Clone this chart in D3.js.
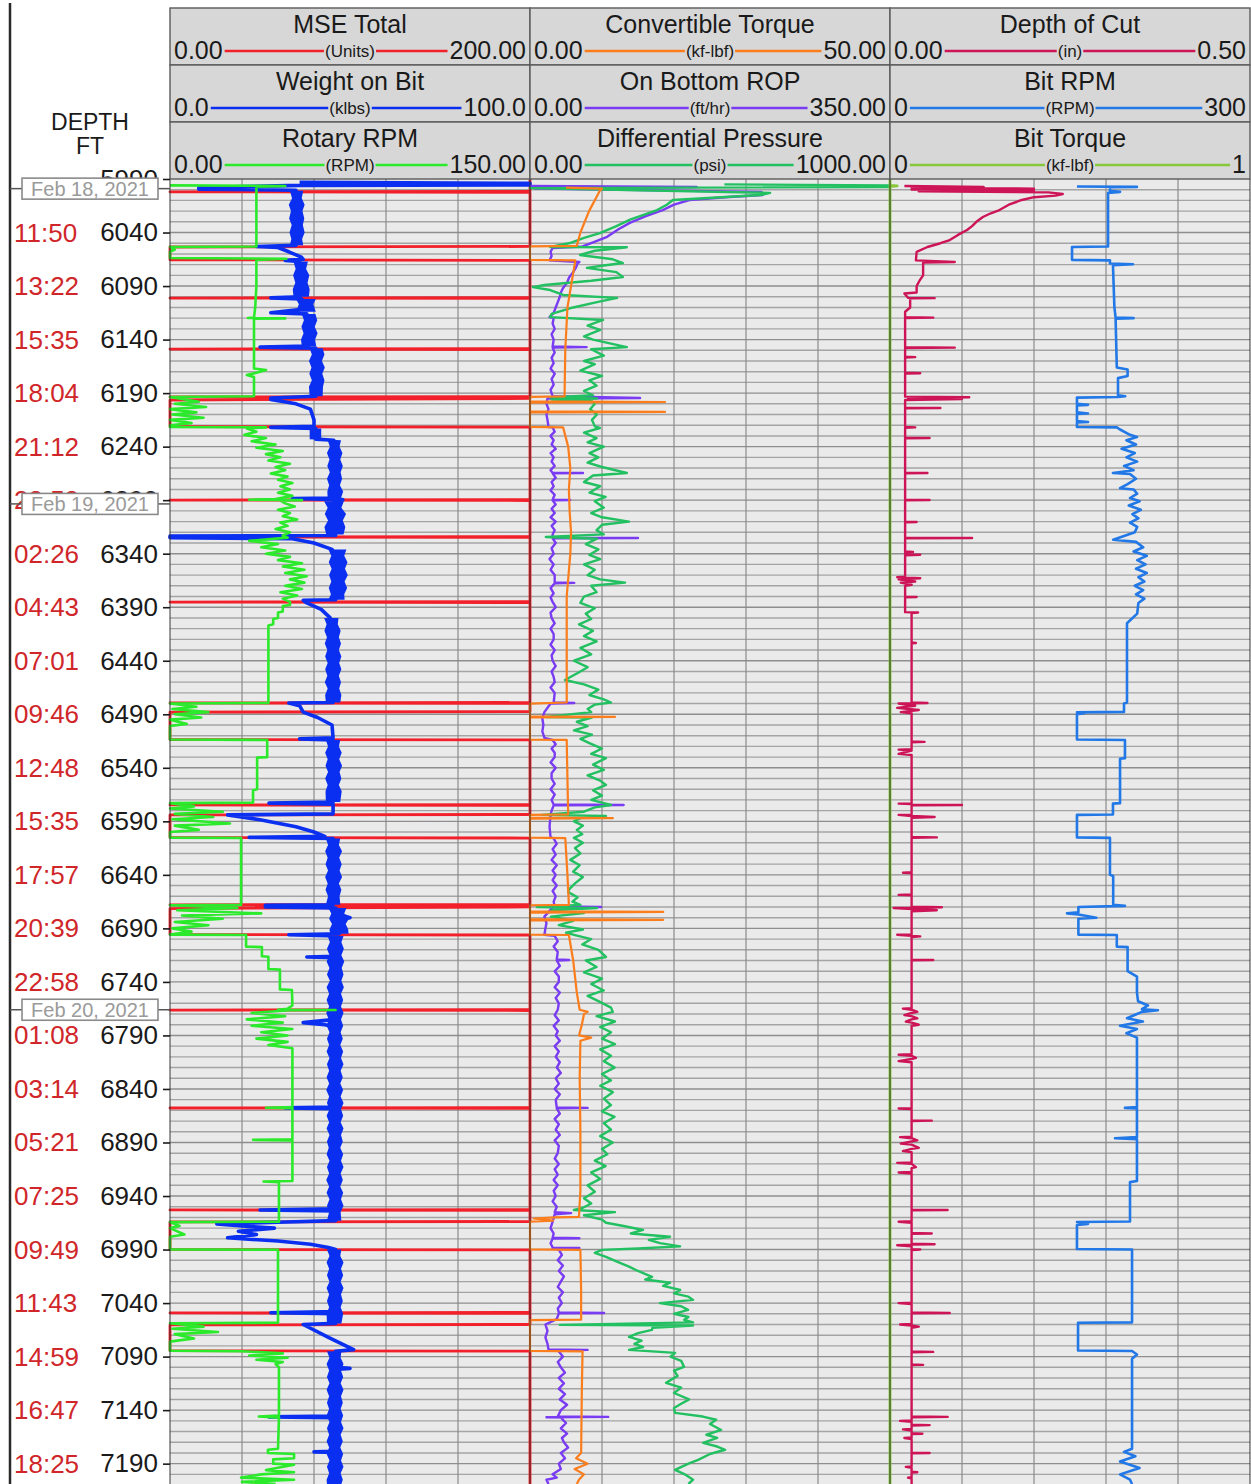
<!DOCTYPE html>
<html>
<head>
<meta charset="utf-8">
<script src="https://cdn.jsdelivr.net/npm/d3@7"></script>
<style>
  html, body { margin: 0; padding: 0; background: #fff; }
  svg { display: block; }
</style>
</head>
<body>
<svg id="chart" width="1251" height="1484"></svg>
<script>
// ---------- depth axis ----------
const depthTicks = [5990, 6040, 6090, 6140, 6190, 6240, 6290, 6340, 6390, 6440, 6490, 6540,
  6590, 6640, 6690, 6740, 6790, 6840, 6890, 6940, 6990, 7040, 7090, 7140, 7190];
const timeLabels = ["", "11:50", "13:22", "15:35", "18:04", "21:12", "23:53", "02:26", "04:43",
  "07:01", "09:46", "12:48", "15:35", "17:57", "20:39", "22:58", "01:08", "03:14", "05:21",
  "07:25", "09:49", "11:43", "14:59", "16:47", "18:25"];
const dateLabels = ["Feb 18, 2021", "Feb 19, 2021", "Feb 20, 2021"];
const dateDepths = [5999, 6293.5, 6766];

// ---------- curve headers ----------
const curveTitles = ["MSE Total", "Weight on Bit", "Rotary RPM",
  "Convertible Torque", "On Bottom ROP", "Differential Pressure",
  "Depth of Cut", "Bit RPM", "Bit Torque"];
const curveUnits = ["(Units)", "(klbs)", "(RPM)", "(kf-lbf)", "(ft/hr)", "(psi)", "(in)", "(RPM)", "(kf-lbf)"];
const curveMinLabels = ["0.00", "0.0", "0.00", "0.00", "0.00", "0.00", "0.00", "0", "0"];
const curveMaxLabels = ["200.00", "100.0", "150.00", "50.00", "350.00", "1000.00", "0.50", "300", "1"];
const curveMin = [0, 0, 0, 0, 0, 0, 0, 0, 0];
const curveMax = [200, 100, 150, 50, 350, 1000, 0.5, 300, 1];
const curveColors = ["#f2202a", "#0b2ff0", "#2bea2b", "#fb7d1c", "#7a3cf2", "#22c061", "#cc1456", "#2178e6", "#86c83a"];

// ---------- series: [depth ft, value] ----------
const mseTotal = [
  [5990, 260], [6001.5, 260], [6002, 0], [6002.5, 260],
  [6053, 260], [6053.5, 0], [6065.5, 0], [6066, 260],
  [6100.8, 260], [6101.2, 0], [6101.6, 260],
  [6148.5, 260], [6148.9, 0], [6149.3, 260],
  [6193.2, 260], [6193.6, 0], [6195, 260], [6196.5, 0], [6221.3, 0], [6221.8, 260],
  [6289.5, 260], [6289.9, 0], [6290.3, 260],
  [6324, 260], [6324.4, 0], [6324.8, 260],
  [6384.8, 260], [6385.2, 0], [6385.6, 260],
  [6479, 260], [6479.4, 0], [6479.8, 260],
  [6487.5, 260], [6488, 0], [6513.6, 0], [6514, 260],
  [6574.3, 260], [6574.7, 0], [6575.1, 260],
  [6583.6, 260], [6584, 0], [6605.2, 0], [6605.6, 260],
  [6667.7, 260], [6668, 0], [6670, 260], [6671.5, 0], [6695.8, 0], [6696.2, 260],
  [6765.9, 260], [6766.3, 0], [6766.7, 260],
  [6857.4, 260], [6857.8, 0], [6858.2, 260],
  [6952.6, 260], [6953, 0], [6953.4, 260],
  [6963.8, 260], [6964.2, 0], [6989.9, 0], [6990.3, 260],
  [7048.8, 260], [7049.2, 0], [7049.6, 260],
  [7060, 260], [7060.4, 0], [7084.5, 0], [7084.9, 260],
  [7209, 260]
];

const weightOnBit = [
  [5993, 36], [5994, 110], [5995.5, 110], [5996, 36], [5998, 8], [5999.5, 8], [6000.5, 35],
  [6020, 35], [6040, 35.5], [6052, 35], [6053, 24], [6054, 30], [6058, 33], [6063, 36.5],
  [6065, 37], [6066, 32], [6067, 36], [6080, 36.5], [6100, 36], [6101, 28], [6102, 36.5],
  [6108, 38.5], [6112, 36], [6115, 28], [6116, 38], [6130, 38.5], [6146, 38.5], [6147, 25],
  [6148, 40.5], [6170, 40.5], [6193, 40.5], [6194.5, 28], [6196, 28], [6200, 35], [6205, 39],
  [6215, 40], [6221, 40], [6222, 28], [6223, 40.5], [6233, 40.5], [6234, 45.5], [6288, 46],
  [6288.5, 34], [6289.5, 48], [6291, 45.5], [6310, 45.5], [6323, 46], [6323.5, 0], [6325, 0],
  [6326, 34], [6330, 40], [6336, 45], [6345, 46.5], [6370, 46.5], [6383, 46], [6383.5, 37],
  [6386, 38], [6392, 42], [6400, 44.5], [6420, 45.3], [6479, 45.3], [6479.5, 33], [6482, 36],
  [6488, 37], [6493, 41], [6500, 45], [6512, 45.3], [6513, 36], [6514, 45.3], [6572, 45.3],
  [6573, 27.5], [6574, 45.3], [6583, 45.3], [6584, 16], [6588.5, 25], [6595, 35], [6600, 40],
  [6604, 43], [6605, 22], [6606, 45.3], [6668, 45.3], [6668.5, 26.5], [6670, 26.5], [6671, 46],
  [6678, 48], [6680, 50], [6682, 47], [6690, 48], [6695, 47], [6696, 33], [6697, 46.5],
  [6716, 46], [6716.7, 38], [6717.5, 46], [6775, 46], [6778, 37], [6780, 43], [6782, 46],
  [6857, 46], [6857.7, 32], [6858.5, 46], [6952, 46], [6953, 25], [6954, 46], [6963, 46],
  [6964.5, 30], [6966, 13], [6968, 20], [6970, 29], [6973, 19], [6976, 24], [6979, 16],
  [6982, 30], [6985, 39], [6988, 44], [6990, 46], [7048, 46], [7049, 28], [7050, 46],
  [7059, 46], [7060, 37], [7072, 44], [7083.5, 51], [7085, 46], [7100, 46], [7101, 50],
  [7102, 46], [7145.5, 46], [7146.3, 27.5], [7147, 46], [7178.5, 46], [7179, 40],
  [7179.6, 46], [7209, 46]
];

// spread of the noisy weight-on-bit trace while drilling: [depth, low, high]
const wobSpread = [
  [6001, 33.3, 37], [6008, 33.9, 36.6], [6014, 33, 37.4], [6020, 33.6, 36.8], [6027, 33.1, 37.3],
  [6033, 33.8, 36.9], [6040, 33.2, 37.4], [6046, 33.7, 36.7], [6052, 33.3, 37], [6052, null, null],
  [6067, 34.3, 38.3], [6074, 34.9, 37.8], [6080, 34.2, 38.7], [6087, 34.8, 38.2], [6093, 34.1, 38.8],
  [6100, 34.3, 38.6], [6100, null, null],
  [6102, 35, 40.5], [6107, 35.8, 39.8], [6114, 35, 40.5], [6114, null, null],
  [6116, 36.6, 40.4], [6122, 37.2, 40.9], [6128, 36.5, 40.2], [6134, 37.1, 41], [6140, 36.4, 40.3],
  [6146, 36.6, 40.6], [6146, null, null],
  [6148, 38.8, 42.4], [6154, 39.4, 42.9], [6160, 38.6, 42.2], [6166, 39.3, 43], [6172, 38.7, 42.3],
  [6178, 39.4, 42.9], [6184, 38.6, 42.5], [6193, 38.8, 42.4], [6193, null, null],
  [6223, 38.8, 42], [6233, 38.8, 42], [6234, 43.8, 47.5], [6240, 44.4, 47.1], [6246, 43.6, 47.9],
  [6252, 44.3, 47.3], [6258, 43.7, 48], [6264, 44.4, 47.4], [6270, 43.6, 47.8], [6276, 44.2, 47.2],
  [6282, 43.7, 48.1], [6288, 43.8, 47.5], [6288, null, null],
  [6291, 42.8, 48.3], [6297, 43.8, 47.6], [6303, 43, 48.9], [6309, 43.9, 48], [6315, 42.9, 48.7],
  [6322, 43.4, 48.2], [6322, null, null],
  [6336, 44, 49], [6342, 44.8, 48.4], [6348, 44.1, 49.3], [6354, 44.9, 48.6], [6360, 44.2, 49.4],
  [6366, 44.8, 48.5], [6372, 44.1, 49.2], [6378, 44.7, 48.4], [6383, 44, 48.5], [6383, null, null],
  [6400, 42.8, 46.8], [6406, 43.5, 46.6], [6412, 42.9, 47.4], [6418, 43.6, 46.9], [6424, 43, 47.5],
  [6430, 43.7, 46.9], [6436, 43.1, 47.6], [6442, 43.8, 47], [6448, 43.1, 47.6], [6454, 43.7, 46.9],
  [6460, 43, 47.5], [6466, 43.8, 47], [6472, 43.1, 47.6], [6479, 43.3, 47.3], [6479, null, null],
  [6514, 43.3, 47.3], [6520, 43.9, 46.9], [6526, 43.1, 47.7], [6532, 43.8, 47], [6538, 43.2, 47.8],
  [6544, 43.9, 47.1], [6550, 43.1, 47.6], [6556, 43.8, 46.9], [6562, 43.2, 47.7], [6572, 43.3, 47.3],
  [6572, null, null],
  [6606, 43.3, 47.3], [6612, 43.9, 46.9], [6618, 43.1, 47.8], [6624, 43.8, 47], [6630, 43.2, 47.7],
  [6636, 43.9, 47.1], [6642, 43.1, 47.8], [6648, 43.8, 46.9], [6654, 43.2, 47.6], [6660, 43.9, 47.1],
  [6668, 43.3, 47.3], [6668, null, null],
  [6671, 44, 49], [6676, 44.8, 48.4], [6681, 44.2, 49.7], [6686, 45, 48.8], [6691, 44.3, 49.5],
  [6695, 44.5, 49.6], [6695, null, null],
  [6697, 43.8, 48.2], [6703, 44.4, 47.6], [6709, 43.6, 48.3], [6715, 44.3, 47.6], [6721, 43.5, 48.4],
  [6727, 44.3, 47.7], [6733, 43.6, 48.2], [6739, 44.4, 47.6], [6745, 43.5, 48.3], [6751, 44.2, 47.5],
  [6757, 43.5, 48.1], [6763, 44.2, 47.5], [6769, 43.4, 48.2], [6775, 44.1, 47.5], [6781, 43.5, 48.1],
  [6787, 44.3, 47.4], [6793, 43.6, 48], [6799, 44.2, 47.3], [6805, 43.5, 48.1], [6811, 44.3, 47.5],
  [6817, 43.6, 48.2], [6823, 44.2, 47.4], [6829, 43.5, 48], [6835, 44.2, 47.3], [6841, 43.4, 48.1],
  [6847, 44.2, 47.4], [6853, 43.6, 48.2], [6859, 44.3, 47.5], [6865, 43.5, 48.1], [6871, 44.2, 47.4],
  [6877, 43.5, 48.2], [6883, 44.3, 47.5], [6889, 43.6, 48], [6895, 44.1, 47.3], [6901, 43.5, 48.1],
  [6907, 44.3, 47.5], [6913, 43.6, 48.2], [6919, 44.2, 47.4], [6925, 43.4, 48], [6931, 44.2, 47.3],
  [6937, 43.5, 48.1], [6943, 44.3, 47.5], [6949, 43.6, 48.2], [6955, 44.2, 47.4], [6963, 43.6, 47.6],
  [6963, null, null],
  [6990, 43.6, 47.6], [6996, 44.3, 47.3], [7002, 43.5, 48.2], [7008, 44.2, 47.5], [7014, 43.6, 48.1],
  [7020, 44.3, 47.4], [7026, 43.5, 48.2], [7032, 44.2, 47.5], [7038, 43.6, 48], [7044, 44.2, 47.4],
  [7050, 43.5, 48.1], [7059, 43.6, 47.6], [7059, null, null],
  [7085, 43.6, 47.6], [7091, 44.3, 47.4], [7097, 43.5, 48.2], [7103, 44.2, 47.5], [7109, 43.6, 48.1],
  [7115, 44.3, 47.4], [7121, 43.5, 48.2], [7127, 44.2, 47.5], [7133, 43.6, 48], [7139, 44.2, 47.4],
  [7145, 43.5, 48.1], [7151, 44.3, 47.5], [7157, 43.6, 48.2], [7163, 44.2, 47.4], [7169, 43.5, 48],
  [7175, 44.2, 47.3], [7181, 43.5, 48.1], [7187, 44.3, 47.5], [7193, 43.6, 48.2], [7199, 44.2, 47.4],
  [7205, 43.5, 48], [7209, 43.6, 47.6]
];

const rotaryRpm = [
  [5996, 0], [5996.5, 48], [5997.5, 36], [6053, 36], [6053.5, 0], [6056, 2], [6058, 0],
  [6063.8, 0], [6064.5, 48.5], [6065.5, 36], [6090, 36], [6110, 35.5], [6119.5, 35],
  [6119.8, 32.5], [6120.2, 48], [6120.6, 35], [6150, 35], [6167, 35], [6168.4, 40], [6171, 36],
  [6173, 32], [6175, 35], [6193, 35], [6193.6, 0], [6198, 12], [6200, 2], [6203, 15],
  [6205, 0], [6208, 11], [6210, 1], [6213, 14], [6215, 0], [6218, 9], [6220, 0], [6221.6, 0],
  [6222, 40], [6223, 32], [6226, 36], [6229, 31], [6232, 40], [6235, 34], [6238, 44],
  [6241, 36], [6244, 47], [6247, 40], [6250, 46], [6253, 41], [6256, 50], [6259, 44],
  [6262, 48], [6265, 42], [6268, 49], [6271, 45], [6274, 51], [6277, 46], [6280, 50],
  [6283, 45], [6286, 51], [6289, 44], [6289.6, 33], [6290, 55], [6290.5, 46], [6293, 48],
  [6296, 52], [6299, 45], [6302, 50], [6305, 47], [6308, 53], [6311, 46], [6314, 49],
  [6317, 44], [6320, 50], [6323, 47], [6325, 49], [6328, 33], [6331, 45], [6334, 38],
  [6337, 48], [6340, 40], [6343, 50], [6346, 45], [6349, 55], [6352, 47], [6355, 56],
  [6358, 48], [6361, 57], [6364, 50], [6367, 56], [6370, 48], [6373, 55], [6376, 46],
  [6379, 53], [6382, 47], [6385, 50], [6388, 50], [6389, 47], [6394, 47], [6395, 45],
  [6400, 45], [6401, 43], [6406, 43], [6407, 41], [6411, 41], [6479.4, 41], [6480, 0],
  [6483, 11], [6485, 1], [6488, 16], [6490, 2], [6493, 13], [6495, 0], [6499, 7], [6501, 0],
  [6513.6, 0], [6514, 40.5], [6530, 40.5], [6530.5, 36.3], [6560, 36.3], [6561, 34.6],
  [6572.5, 34.6], [6573, 0], [6576, 10], [6578, 0], [6581, 22], [6583, 2], [6586, 18],
  [6588, 1], [6592, 25], [6594, 2], [6598, 12], [6600, 0], [6605.2, 0], [6605.6, 29.6],
  [6668, 29.6], [6668.4, 0], [6671, 28], [6673, 3], [6676, 38], [6678, 5], [6681, 22],
  [6684, 2], [6687, 16], [6690, 1], [6693, 9], [6695.8, 0], [6696.2, 31.7], [6707, 31.7],
  [6707.5, 38.3], [6716, 38.3], [6716.5, 41], [6728, 41], [6728.5, 45.8], [6747, 45.8],
  [6747.5, 50.8], [6762, 51], [6765, 49], [6766, 45], [6766.2, 69], [6766.5, 50], [6769, 34],
  [6772, 48], [6775, 32], [6778, 47], [6781, 34], [6784, 51], [6787, 38], [6790, 49],
  [6793, 36], [6796, 49], [6799, 41], [6802, 51], [6857, 51], [6857.5, 40], [6858, 51],
  [6887, 51], [6887.5, 34.6], [6888, 51], [6926, 51], [6926.5, 39], [6927, 45.4], [6964, 45.4],
  [6964.4, 0], [6968, 4], [6970, 0], [6976, 6], [6978, 0], [6989.8, 0], [6990.2, 45],
  [7058.4, 45], [7058.8, 0], [7062, 14], [7064, 1], [7067, 20], [7069, 2], [7073, 10],
  [7076, 0], [7084.5, 0], [7085, 30], [7087, 47], [7089, 33], [7091, 49], [7093, 36],
  [7095, 47], [7097, 44], [7100, 45.4], [7145, 45.4], [7146, 37], [7147, 45.4], [7176, 45],
  [7177, 40.8], [7180, 40.8], [7181, 51.7], [7185, 51.7], [7186, 43], [7190, 43], [7191, 51.7],
  [7196, 40], [7198, 51.7], [7200, 38], [7203, 29.6], [7205, 51.7], [7207, 30], [7209, 44]
];

const convTorque = [
  [5998, 5], [5999, 10], [6001, 9.7], [6020, 8.2], [6040, 7], [6052.5, 6.5], [6053, 0],
  [6065.5, 0], [6066, 6.3], [6090, 5.7], [6110, 5.2], [6150, 4.9], [6193, 4.8], [6193.6, 0],
  [6197.8, 0], [6198.3, 18.75], [6198.8, 0], [6207, 0], [6207.6, 18.75], [6208.1, 0],
  [6221.6, 0], [6222, 4.6], [6240, 5.3], [6260, 5.6], [6280, 5.4], [6300, 5.5], [6320, 5.7],
  [6340, 5.6], [6380, 5.1], [6420, 5.1], [6479, 5.1], [6480, 0], [6492, 0], [6492.5, 11.8],
  [6493, 0], [6513.6, 0], [6514, 5.1], [6550, 5.2], [6583.5, 5.3], [6584, 0], [6586.5, 0],
  [6587, 11.5], [6587.5, 0], [6605.2, 0], [6605.6, 4.9], [6640, 5.2], [6668, 5.4],
  [6668.4, 0], [6674, 0], [6674.6, 18.5], [6675.2, 0], [6681.4, 0], [6682, 18.5], [6682.6, 0],
  [6695.8, 0], [6696.2, 5.4], [6720, 6.0], [6750, 6.5], [6766, 6.9], [6768, 8], [6770, 7.5],
  [6780, 7.2], [6790, 6.8], [6792, 8.5], [6795, 7], [6830, 6.9], [6880, 7.0], [6935, 7.0],
  [6959.5, 6.8], [6960, 3.5], [6961, 0.5], [6963, 3.2], [6964, 0], [6989.9, 0], [6990.3, 7.0],
  [7030, 7.1], [7055.5, 7.1], [7056, 0], [7084.7, 0], [7085.1, 7.3], [7120, 7.2], [7180, 7.1],
  [7185, 6.4], [7190, 8.0], [7195, 6.2], [7200, 7.5], [7205, 6.8], [7209, 6.5]
];

const onBottomRop = [
  [5996.5, 0], [5997.5, 162], [5999, 5], [6002, 225], [6005, 226], [6007, 190], [6009.6, 155],
  [6014, 140], [6019, 129], [6025, 112], [6031, 97], [6037, 86], [6044, 75], [6049, 62],
  [6053, 51], [6054.5, 22], [6058, 20], [6062, 21], [6066, 19], [6067.5, 48], [6069, 46],
  [6072, 45], [6077, 42], [6082, 38], [6087, 36], [6092, 32], [6096, 30], [6100, 29],
  [6105, 27], [6110, 25], [6115, 23], [6119, 19], [6120, 23], [6125, 22], [6130, 24],
  [6135, 21], [6140, 23], [6146.5, 22], [6147, 55], [6147.5, 22], [6152, 24], [6157, 21],
  [6162, 23], [6167, 20], [6172, 24], [6177, 21], [6182, 23], [6187, 20], [6193, 22],
  [6194.5, 107], [6195, 17], [6200, 16], [6205, 18], [6210, 16], [6215, 17], [6221.6, 18],
  [6222, 22], [6226, 24], [6230, 20], [6234, 23], [6238, 21], [6242, 25], [6246, 20],
  [6250, 23], [6254, 21], [6258, 24], [6262, 20], [6264.3, 22], [6264.6, 51.5], [6265, 22],
  [6269, 25], [6273, 21], [6277, 23], [6281, 20], [6285, 24], [6289.5, 22], [6289.8, 39],
  [6290.2, 22], [6294, 25], [6298, 21], [6302, 24], [6306, 20], [6310, 25], [6314, 21],
  [6318, 24], [6322, 22], [6325, 22], [6325.3, 105], [6325.7, 22], [6330, 25], [6335, 21],
  [6340, 23], [6345, 19], [6350, 23], [6355, 20], [6360, 24], [6366.8, 24], [6367.3, 43],
  [6367.7, 24], [6372, 20], [6377, 23], [6381, 20], [6385, 22], [6390, 25], [6395, 20],
  [6400, 21], [6405, 24], [6410, 20], [6415, 23], [6420, 23], [6425, 20], [6430, 24],
  [6435, 21], [6440, 22], [6445, 25], [6450, 21], [6455, 23], [6460, 24], [6465, 20],
  [6470, 24], [6479, 23], [6479.4, 43], [6480, 20], [6488, 14], [6494, 12], [6500, 13],
  [6506, 12], [6512, 14], [6514, 22], [6518, 25], [6522, 21], [6526, 24], [6530, 24],
  [6535, 20], [6540, 25], [6545, 21], [6550, 21], [6555, 24], [6560, 20], [6565, 24],
  [6570, 21], [6574.3, 23], [6574.7, 91], [6575.1, 23], [6580, 21], [6584, 20], [6595, 19],
  [6605, 20], [6606, 23], [6611, 26], [6616, 22], [6621, 25], [6626, 21], [6631, 26],
  [6636, 22], [6640, 25], [6645, 22], [6650, 26], [6655, 22], [6660, 25], [6665, 23],
  [6669.6, 24], [6670, 69], [6670.4, 22], [6679, 14], [6685, 16], [6690, 15], [6696, 14],
  [6697, 24], [6702, 27], [6707, 23], [6712, 27], [6719, 26], [6719.5, 38], [6720, 26],
  [6725, 29], [6730, 24], [6735, 28], [6740, 28], [6745, 24], [6750, 29], [6755, 25],
  [6760, 28], [6766, 27], [6771, 24], [6776, 28], [6781, 23], [6786, 27], [6790, 25],
  [6795, 29], [6800, 24], [6805, 28], [6810, 25], [6815, 29], [6820, 26], [6825, 30],
  [6830, 25], [6835, 28], [6840, 24], [6845, 29], [6850, 25], [6857.3, 26], [6857.7, 56],
  [6858.1, 26], [6863, 29], [6868, 24], [6873, 28], [6878, 25], [6883, 29], [6888, 24],
  [6893, 28], [6900, 27], [6905, 24], [6910, 28], [6915, 24], [6920, 27], [6925, 23],
  [6930, 27], [6935, 23], [6940, 25], [6945, 22], [6950, 26], [6955, 24], [6956, 40],
  [6957, 24], [6964, 22], [6970, 20], [6975, 23], [6979, 22], [6979.4, 48], [6979.8, 22],
  [6984, 20], [6988.2, 22], [6988.6, 48], [6989, 22], [6990, 28], [6995, 31], [7000, 27],
  [7005, 32], [7010, 28], [7015, 33], [7020, 30], [7025, 27], [7030, 32], [7035, 28],
  [7040, 31], [7045, 27], [7048.8, 28], [7049.2, 72], [7049.6, 28], [7055, 26], [7060, 15],
  [7066, 17], [7072, 15], [7078, 17], [7083.3, 18], [7083.7, 56], [7084.1, 27], [7090, 32],
  [7095, 27], [7100, 30], [7105, 34], [7110, 28], [7115, 33], [7120, 28], [7125, 34],
  [7130, 29], [7135, 36], [7140, 30], [7146, 27], [7146.3, 76], [7146.6, 16], [7147, 30],
  [7152, 35], [7157, 30], [7162, 36], [7166, 31], [7170, 33], [7175, 37], [7180, 30],
  [7185, 34], [7190, 28], [7195, 30], [7200, 22], [7203, 26], [7205, 16], [7209, 18]
];

const diffPressure = [
  [5995, 540], [5996, 1100], [5997.5, 1100], [5998.5, 0], [6003, 667], [6005, 640],
  [6009.6, 397], [6014, 380], [6019, 353], [6028, 278], [6034, 240], [6040.5, 194],
  [6045, 150], [6049.8, 111], [6053.5, 56], [6053.8, 269], [6057, 180], [6061, 139],
  [6065, 230], [6068.5, 258], [6071, 200], [6073, 158], [6077, 240], [6081.5, 258],
  [6085, 170], [6089, 40], [6091, 8], [6093.7, 56], [6098.3, 92], [6101, 242], [6105, 186],
  [6110, 120], [6116, 60], [6119, 56], [6121.7, 203], [6127, 160], [6131, 195], [6137, 150],
  [6140, 175], [6147, 269], [6149, 170], [6155, 205], [6160, 150], [6163, 180], [6169, 140],
  [6174, 200], [6178, 165], [6183, 185], [6188, 150], [6192, 175], [6194, 56], [6195, 186],
  [6196, 60], [6197, 170], [6200, 180], [6205, 167], [6210, 186], [6215, 172], [6221, 180],
  [6222.6, 194], [6227, 150], [6232, 185], [6236, 160], [6240, 205], [6246, 165], [6250, 190],
  [6255, 160], [6259, 200], [6264.6, 269], [6267, 175], [6273, 150], [6277, 195], [6283, 165],
  [6287, 210], [6291, 180], [6297, 205], [6302, 170], [6306, 200], [6310, 275], [6313, 200],
  [6318, 185], [6322, 205], [6324.4, 44], [6326, 186], [6331, 155], [6336, 190], [6341, 165],
  [6345, 195], [6350, 150], [6355, 180], [6360, 160], [6364, 195], [6367, 264], [6370, 170],
  [6376, 185], [6380, 150], [6386, 140], [6391, 180], [6396, 155], [6401, 170], [6406, 136],
  [6412, 175], [6417, 150], [6422, 185], [6428, 140], [6434, 170], [6440, 122], [6446, 160],
  [6451, 135], [6458, 97], [6462, 150], [6467, 190], [6472, 165], [6476, 205], [6479, 225],
  [6481, 180], [6485, 160], [6488, 170], [6492.5, 44], [6493, 172], [6497, 130], [6501, 160],
  [6505, 122], [6509, 172], [6513, 140], [6517, 165], [6522, 200], [6527, 170], [6531, 211],
  [6537, 175], [6542, 205], [6547, 160], [6552, 195], [6556, 211], [6561, 175], [6566, 200],
  [6570, 170], [6574.7, 225], [6577, 180], [6581, 150], [6584, 33], [6585, 211], [6587, 140],
  [6590, 122], [6594, 147], [6598, 130], [6602, 145], [6605.5, 122], [6610, 147], [6615, 125],
  [6620, 140], [6626, 112], [6631, 138], [6637, 120], [6642, 147], [6648, 125], [6653, 110],
  [6656, 106], [6661, 132], [6665, 118], [6668, 140], [6670, 19], [6671, 186], [6673, 60],
  [6675.6, 150], [6679, 58], [6683, 120], [6687, 80], [6691, 147], [6694, 100], [6696, 122],
  [6700, 170], [6705, 145], [6710, 190], [6716.7, 211], [6720, 155], [6726, 185], [6731, 150],
  [6737, 200], [6742, 170], [6748, 205], [6753, 160], [6758, 190], [6764, 225], [6768, 230],
  [6772, 185], [6777, 236], [6782, 195], [6787, 225], [6793, 200], [6798, 236], [6803, 195],
  [6809, 225], [6814, 205], [6820, 235], [6826, 200], [6832, 225], [6837, 195], [6843, 230],
  [6849, 205], [6855, 225], [6861, 200], [6866, 235], [6872, 205], [6878, 225], [6884, 195],
  [6890, 230], [6896, 200], [6901, 215], [6907, 180], [6912, 210], [6918, 170], [6924, 195],
  [6930, 160], [6936, 180], [6942, 150], [6947, 170], [6951, 147], [6953, 122], [6955, 236],
  [6958, 150], [6962, 200], [6965, 211], [6968, 260], [6971.7, 314], [6975, 280], [6978, 389],
  [6981, 330], [6984, 361], [6987, 417], [6989, 300], [6990.3, 200], [6993, 180], [6996.8, 211],
  [7001, 240], [7006, 275], [7010, 300], [7015.5, 339], [7018, 320], [7021, 389], [7024, 370],
  [7027.7, 417], [7031, 400], [7034, 440], [7037, 453], [7040, 361], [7043, 420], [7046.4, 439],
  [7050, 400], [7053, 440], [7055.7, 428], [7058, 453], [7060.4, 83], [7061, 453], [7063, 340],
  [7065, 339], [7068, 300], [7071.6, 275], [7075, 310], [7078, 290], [7081, 314], [7083.7, 275],
  [7086.5, 403], [7090, 390], [7094, 420], [7099.6, 428], [7103, 400], [7108, 410],
  [7114.5, 378], [7119, 420], [7124, 400], [7130, 442], [7134, 420], [7138, 400], [7142.6, 403],
  [7146, 480], [7149, 517], [7153, 500], [7158.5, 531], [7163, 490], [7166, 520], [7170.6, 481],
  [7174, 520], [7177, 542], [7181, 500], [7186.5, 467], [7190, 440], [7195.8, 403], [7200, 430],
  [7205, 453], [7209, 440]
];

const depthOfCut = [
  [5996.5, 0.02], [5997.5, 0.13], [5998.2, 0.03], [5999, 0.2], [5999.8, 0.03], [6000.6, 0.2],
  [6001.5, 0.04], [6002.5, 0.22], [6004, 0.24], [6005.5, 0.23], [6007, 0.2], [6009.6, 0.183],
  [6014, 0.165], [6019, 0.152], [6022, 0.14], [6025.5, 0.129], [6030, 0.12], [6034, 0.114],
  [6037.6, 0.107], [6042, 0.095], [6047, 0.083], [6050, 0.07], [6053.5, 0.052], [6058, 0.037],
  [6066, 0.036], [6067.5, 0.09], [6068, 0.046], [6080, 0.046], [6085, 0.041], [6090, 0.037],
  [6096, 0.037], [6097, 0.02], [6101, 0.025], [6101.3, 0.062], [6101.6, 0.028], [6110, 0.028],
  [6114, 0.021], [6119.2, 0.021], [6119.5, 0.06], [6119.8, 0.021], [6147.2, 0.021],
  [6147.5, 0.09], [6147.8, 0.021], [6156, 0.021], [6156.4, 0.035], [6156.8, 0.021],
  [6171, 0.021], [6171.4, 0.042], [6171.8, 0.021], [6193.3, 0.021], [6193.8, 0.11],
  [6194.5, 0.025], [6195.5, 0.1], [6196.5, 0.021], [6203.6, 0.021], [6203.9, 0.07],
  [6204.2, 0.021], [6221.5, 0.021], [6222, 0.035], [6222.5, 0.021], [6231.7, 0.021],
  [6232, 0.055], [6232.3, 0.021], [6264.3, 0.021], [6264.6, 0.052], [6264.9, 0.021],
  [6289.5, 0.021], [6289.8, 0.055], [6290.1, 0.021], [6310.1, 0.021], [6310.4, 0.037],
  [6310.7, 0.021], [6325, 0.021], [6325.3, 0.114], [6325.6, 0.021], [6338, 0.021],
  [6338.4, 0.032], [6338.8, 0.021], [6340.6, 0.021], [6341, 0.042], [6341.4, 0.021],
  [6361.5, 0.021], [6362, 0.01], [6363, 0.042], [6364, 0.012], [6366, 0.035], [6367, 0.015],
  [6369, 0.03], [6370, 0.021], [6380.1, 0.021], [6380.4, 0.037], [6380.7, 0.021],
  [6394.6, 0.021], [6395, 0.039], [6395.4, 0.03], [6423, 0.03], [6423.4, 0.036], [6423.8, 0.03],
  [6479, 0.03], [6479.4, 0.052], [6480, 0.012], [6482, 0.035], [6484, 0.01], [6486, 0.04],
  [6488, 0.015], [6489, 0.03], [6515.5, 0.03], [6515.8, 0.048], [6516.1, 0.03], [6522.6, 0.03],
  [6523, 0.012], [6524, 0.03], [6527, 0.012], [6528, 0.03], [6573.2, 0.03], [6573.5, 0.012],
  [6573.9, 0.03], [6574.4, 0.03], [6574.7, 0.1], [6575, 0.03], [6583.7, 0.03], [6584, 0.012],
  [6585, 0.03], [6586, 0.062], [6586.6, 0.03], [6604.6, 0.03], [6605, 0.065], [6605.4, 0.03],
  [6637.6, 0.03], [6638, 0.018], [6638.4, 0.03], [6658.3, 0.03], [6658.7, 0.012],
  [6659.1, 0.03], [6669.8, 0.03], [6670.2, 0.072], [6671, 0.005], [6673, 0.065], [6674, 0.03],
  [6695.6, 0.03], [6696, 0.01], [6697, 0.03], [6697.5, 0.042], [6698, 0.03], [6719.2, 0.03],
  [6719.5, 0.06], [6719.8, 0.03], [6764.6, 0.03], [6765, 0.018], [6766, 0.03], [6768, 0.038],
  [6769, 0.03], [6771, 0.02], [6772, 0.03], [6774, 0.038], [6775, 0.03], [6777, 0.022],
  [6778, 0.03], [6780, 0.04], [6781, 0.03], [6807.6, 0.03], [6808, 0.012], [6809, 0.03],
  [6811, 0.036], [6812, 0.03], [6814, 0.012], [6815, 0.03], [6858, 0.03], [6858.3, 0.012],
  [6858.7, 0.03], [6869.3, 0.03], [6869.6, 0.058], [6869.9, 0.03], [6884.6, 0.03],
  [6885, 0.014], [6886, 0.03], [6888, 0.038], [6889, 0.03], [6891, 0.015], [6892, 0.03],
  [6895, 0.04], [6896, 0.03], [6898, 0.018], [6899, 0.03], [6908.6, 0.03], [6909, 0.01],
  [6910, 0.03], [6913, 0.036], [6914, 0.03], [6917.6, 0.03], [6918, 0.012], [6919, 0.03],
  [6952.7, 0.03], [6953, 0.08], [6953.3, 0.03], [6963.6, 0.03], [6964, 0.012], [6965, 0.03],
  [6974.6, 0.03], [6975, 0.058], [6975.4, 0.03], [6984.6, 0.03], [6985, 0.062], [6985.4, 0.03],
  [6986, 0.01], [6987, 0.03], [6989.6, 0.03], [6990, 0.042], [6990.4, 0.03], [7039.6, 0.03],
  [7040, 0.012], [7041, 0.03], [7048.8, 0.03], [7049.2, 0.083], [7049.6, 0.03], [7059.6, 0.03],
  [7060, 0.014], [7061, 0.03], [7062, 0.04], [7063, 0.03], [7085.3, 0.03], [7085.6, 0.06],
  [7085.9, 0.03], [7097.4, 0.03], [7097.7, 0.046], [7098, 0.03], [7146, 0.03], [7146.3, 0.08],
  [7146.6, 0.03], [7149.6, 0.03], [7150, 0.014], [7151, 0.03], [7153.6, 0.03], [7154, 0.055],
  [7154.4, 0.03], [7157.6, 0.03], [7158, 0.018], [7159, 0.03], [7161.6, 0.03], [7162, 0.045],
  [7162.4, 0.03], [7165.6, 0.03], [7166, 0.02], [7167, 0.03], [7179.7, 0.03], [7180, 0.055],
  [7180.3, 0.03], [7192.6, 0.03], [7193, 0.022], [7194, 0.03], [7197.6, 0.03], [7198, 0.038],
  [7198.4, 0.03], [7202.6, 0.03], [7203, 0.025], [7204, 0.03], [7209, 0.03]
];

const bitRpm = [
  [5997, 155.8], [5997.4, 205.8], [5998, 183.3], [6001, 183.3], [6002, 191.7], [6003, 181.7],
  [6053, 181.7], [6053.5, 151.7], [6065.5, 151.7], [6066, 183.3], [6069, 183.3], [6069.7, 202.5],
  [6070.5, 185.8], [6110, 187], [6119.5, 188], [6120, 203], [6120.5, 188], [6166, 189],
  [6168, 198], [6174, 198], [6176, 190], [6192, 190], [6193, 196], [6193.6, 190],
  [6194.2, 155.8], [6200, 155.8], [6201, 165], [6201.5, 155.8], [6208, 155.8], [6209, 165],
  [6209.5, 155.8], [6216, 155.8], [6217, 165], [6217.5, 155.8], [6221.6, 155.8], [6222, 189],
  [6224, 191.7], [6229, 200], [6231, 205.8], [6234, 197], [6238, 205], [6242, 193],
  [6246, 204], [6250, 197], [6254, 206], [6258, 195], [6262, 203], [6264.6, 185.8],
  [6265.5, 200], [6270, 205], [6275, 198], [6278.8, 191.7], [6280, 203], [6284, 206],
  [6288, 200], [6291, 208], [6295, 199], [6299, 209], [6303, 202], [6307, 207], [6311, 200],
  [6315, 206], [6320, 204], [6327, 186], [6329, 205], [6334, 211], [6338, 203], [6342, 214],
  [6346, 206], [6350, 213], [6354, 205], [6358, 214], [6362, 207], [6366, 212], [6370, 204],
  [6374, 211], [6378, 205], [6382, 212], [6386, 207], [6396, 206], [6405, 197.5],
  [6479, 197.5], [6480, 195], [6487.8, 195], [6488.2, 155.8], [6489, 162], [6490, 155.8],
  [6513.6, 155.8], [6514, 195.8], [6531, 195.8], [6531.5, 191.7], [6573, 191.7],
  [6573.5, 185.8], [6583.6, 185.8], [6584, 155.8], [6605, 155.8], [6605.5, 183.3],
  [6640, 183.3], [6641, 186], [6668, 186], [6669, 195.8], [6670, 157], [6675, 157],
  [6676, 147.5], [6677, 157], [6680, 172], [6681, 157], [6695.8, 157], [6696.2, 189],
  [6707, 189], [6707.5, 198], [6730, 198], [6735, 205.8], [6750, 205.8], [6758, 206.7],
  [6762, 215], [6765.5, 210], [6766.5, 223.3], [6768, 210], [6770, 205.8], [6774, 197.5],
  [6777, 210.8], [6781, 191.7], [6784, 205.8], [6788, 197], [6792, 205.8], [6857, 205.8],
  [6857.7, 195.8], [6858.3, 205.8], [6885, 205.8], [6886, 187.5], [6887, 205.8], [6926, 205.8],
  [6927, 200], [6963.8, 200], [6964.2, 155.8], [6966, 165], [6967, 155.8], [6989.5, 155.8],
  [6989.9, 201.7], [7058, 201.7], [7058.4, 156.7], [7084.3, 156.7], [7084.7, 201.7],
  [7088, 205.8], [7092, 201.7], [7176, 201.7], [7179, 195], [7183, 204.5], [7188, 191.7],
  [7194, 208], [7200, 191.7], [7205, 200], [7209, 201.7]
];

const bitTorque = [[5990, 0], [5996, 0], [5996.5, 0.02], [5997, 0], [7209, 0]];

// ---------- layout ----------
const W = 1251, H = 1484;
const plotTop = 179, plotBottom = 1484;
const headerTop = 8, rowH = 57;
const trackEdges = [[170, 530], [530, 890], [890, 1250]];
const FONT = "'Liberation Sans', Arial, Helvetica, sans-serif";

const y = d3.scaleLinear().domain([5990, 7209]).range([plotTop, plotBottom]);

const svg = d3.select("#chart");
svg.append("rect").attr("width", W).attr("height", H).attr("fill", "#fff");

// ---------- track backgrounds and grid ----------
const gridDepths = d3.range(6000, 7209, 10);
trackEdges.forEach(([x0, x1]) => {
  const g = svg.append("g");
  g.append("rect").attr("x", x0).attr("y", plotTop).attr("width", x1 - x0)
    .attr("height", plotBottom - plotTop).attr("fill", "#eaeaea");
  g.selectAll("line.h").data(gridDepths).join("line")
    .attr("x1", x0).attr("x2", x1)
    .attr("y1", d => y(d)).attr("y2", d => y(d))
    .attr("stroke", d => d % 50 === 40 ? "#8e8e8e" : "#a4a4a4")
    .attr("stroke-width", 1.4);
  const gx = d3.scaleLinear().domain([0, 5]).range([x0, x1]);
  g.selectAll("line.v").data([1, 2, 3, 4]).join("line")
    .attr("x1", k => gx(k)).attr("x2", k => gx(k))
    .attr("y1", plotTop).attr("y2", plotBottom)
    .attr("stroke", "#8a8a8a").attr("stroke-width", 1.2);
});

// ---------- curves ----------
function xScale(i) {
  const edges = trackEdges[Math.floor(i / 3)];
  return d3.scaleLinear().domain([curveMin[i], curveMax[i]]).range(edges).clamp(true);
}
function drawCurve(data, i, width) {
  const xs = xScale(i);
  svg.append("path").datum(data)
    .attr("fill", "none").attr("stroke", curveColors[i])
    .attr("stroke-width", width).attr("stroke-linejoin", "round")
    .attr("d", d3.line().x(p => xs(p[1])).y(p => y(p[0])));
}

// track 1
drawCurve(mseTotal, 0, 2.8);
{
  const xs = xScale(1);
  svg.append("path").datum(wobSpread)
    .attr("fill", curveColors[1])
    .attr("d", d3.area().defined(p => p[1] !== null)
      .x0(p => xs(p[1])).x1(p => xs(p[2])).y(p => y(p[0])));
}
drawCurve(weightOnBit, 1, 3.6);
drawCurve(rotaryRpm, 2, 2.6);
// track 2
drawCurve(onBottomRop, 4, 2.4);
drawCurve(diffPressure, 5, 2.4);
drawCurve(convTorque, 3, 2.2);
// track 3
drawCurve(depthOfCut, 6, 2.4);
drawCurve(bitRpm, 7, 2.6);
drawCurve(bitTorque, 8, 2.8);

// track borders
const borderXs = [170, 530, 890, 1250];
svg.selectAll("line.border").data(borderXs).join("line")
  .attr("x1", d => d).attr("x2", d => d).attr("y1", plotTop).attr("y2", plotBottom)
  .attr("stroke", "#2a2a2a").attr("stroke-width", 1.1).attr("stroke-opacity", 0.85);

// ---------- header ----------
const header = svg.append("g");
curveTitles.forEach((title, i) => {
  const [x0, x1] = trackEdges[Math.floor(i / 3)];
  const top = headerTop + (i % 3) * rowH;
  const cell = header.append("g");
  cell.append("rect").attr("x", x0).attr("y", top).attr("width", x1 - x0).attr("height", rowH)
    .attr("fill", "#d7d7d7").attr("stroke", "#5a5a5a").attr("stroke-width", 1.4);
  cell.append("text").attr("x", (x0 + x1) / 2).attr("y", top + 16)
    .attr("text-anchor", "middle").attr("dominant-baseline", "central")
    .attr("font-family", FONT).attr("font-size", 25).attr("fill", "#1a1a1a").text(title);
  const sy = top + 42;
  const lt = cell.append("text").attr("x", x0 + 4).attr("y", sy)
    .attr("dominant-baseline", "central").attr("font-family", FONT)
    .attr("font-size", 25).attr("fill", "#1a1a1a").text(curveMinLabels[i]);
  const rt = cell.append("text").attr("x", x1 - 4).attr("y", sy).attr("text-anchor", "end")
    .attr("dominant-baseline", "central").attr("font-family", FONT)
    .attr("font-size", 25).attr("fill", "#1a1a1a").text(curveMaxLabels[i]);
  const ut = cell.append("text").attr("x", (x0 + x1) / 2).attr("y", sy + 1).attr("text-anchor", "middle")
    .attr("dominant-baseline", "central").attr("font-family", FONT)
    .attr("font-size", 17).attr("fill", "#1a1a1a").text(curveUnits[i]);
  const lb = lt.node().getBBox(), rb = rt.node().getBBox(), ub = ut.node().getBBox();
  [[lb.x + lb.width + 2, ub.x - 1], [ub.x + ub.width + 1, rb.x - 2]].forEach(([a, b]) => {
    cell.append("line").attr("x1", a).attr("x2", b).attr("y1", sy + 1).attr("y2", sy + 1)
      .attr("stroke", curveColors[i]).attr("stroke-width", 2.6);
  });
});

// depth column label
svg.append("text").attr("x", 90).attr("y", 122).attr("text-anchor", "middle")
  .attr("dominant-baseline", "central").attr("font-family", FONT).attr("font-size", 23)
  .attr("fill", "#1a1a1a").text("DEPTH");
svg.append("text").attr("x", 90).attr("y", 146).attr("text-anchor", "middle")
  .attr("dominant-baseline", "central").attr("font-family", FONT).attr("font-size", 23)
  .attr("fill", "#1a1a1a").text("FT");

// left frame line
svg.append("line").attr("x1", 10).attr("x2", 10).attr("y1", 3).attr("y2", H)
  .attr("stroke", "#2a2a2a").attr("stroke-width", 2.5);

// ---------- depth axis ----------
const axis = d3.axisLeft(y).tickValues(depthTicks).tickSize(7).tickPadding(5)
  .tickFormat(d3.format("d"));
const axG = svg.append("g").attr("transform", "translate(170,0)").call(axis);
axG.select(".domain").remove();
axG.selectAll(".tick line").attr("stroke", "#1a1a1a").attr("stroke-width", 1.6);
axG.selectAll(".tick text").attr("font-family", FONT).attr("font-size", 26)
  .attr("fill", "#1a1a1a");

svg.selectAll("text.time").data(depthTicks).join("text")
  .attr("x", 14).attr("y", d => y(d)).attr("dominant-baseline", "central")
  .attr("font-family", FONT).attr("font-size", 26).attr("fill", "#d0262a")
  .text((d, i) => timeLabels[i]);

// ---------- date markers (drawn over the labels they mark) ----------
dateLabels.forEach((label, i) => {
  const yy = y(dateDepths[i]);
  const g = svg.append("g");
  g.append("line").attr("x1", 10).attr("x2", 22).attr("y1", yy).attr("y2", yy)
    .attr("stroke", "#555").attr("stroke-width", 1.5);
  g.append("line").attr("x1", 158).attr("x2", 170).attr("y1", yy).attr("y2", yy)
    .attr("stroke", "#555").attr("stroke-width", 1.5);
  g.append("rect").attr("x", 22).attr("y", yy - 10.5).attr("width", 136).attr("height", 21)
    .attr("fill", "#fff").attr("stroke", "#8a8a8a").attr("stroke-width", 1.6);
  g.append("text").attr("x", 90).attr("y", yy + 0.5).attr("text-anchor", "middle")
    .attr("dominant-baseline", "central").attr("font-family", FONT).attr("font-size", 20)
    .attr("fill", "#9a9a9a").text(label);
});
</script>
</body>
</html>
